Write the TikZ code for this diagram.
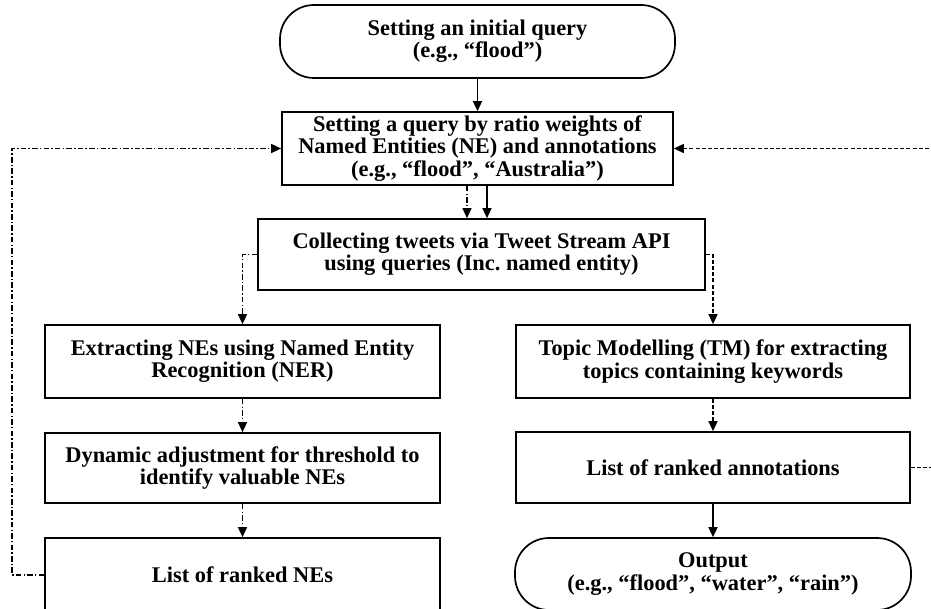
\documentclass[tikz,border=0pt]{standalone}
\usepackage{fontspec}
\setmainfont{Liberation Serif}
\usetikzlibrary{arrows.meta}
\begin{document}
\frenchspacing
\begin{tikzpicture}[x=1pt,y=-1pt,
  box/.style={draw, line width=1.7pt, align=center, inner sep=2pt,
    font=\bfseries\fontsize{22.4}{22.2}\selectfont},
  term/.style={box, rounded corners=34pt},
  arr/.style={-{Triangle[length=10pt,width=9pt]}, line width=1.5pt},
  dd/.style={dash pattern=on 5.5pt off 2.2pt on 1.5pt off 2.2pt},
  ds/.style={dash pattern=on 4pt off 2.2pt}]
\useasboundingbox (0,0) rectangle (931,609);
\fill[white] (0,0) rectangle (931,609);
\clip (0,0) rectangle (931,609);
\node[term, minimum width=395pt, minimum height=73pt] (start) at (477.5,41.5)
  {Setting an initial query\\(e.g., “flood”)};
\node[box, minimum width=391pt, minimum height=73pt] (q) at (477.5,148.5)
  {Setting a query by ratio weights of\\Named Entities (NE) and annotations\\(e.g., “flood”, “Australia”)};
\node[box, minimum width=447pt, minimum height=71pt] (coll) at (481.5,254.5)
  {Collecting tweets via Tweet Stream API\\using queries (Inc. named entity)};
\node[box, minimum width=395pt, minimum height=73pt] (ext) at (242.5,361.5)
  {Extracting NEs using Named Entity\\Recognition (NER)};
\node[box, minimum width=395pt, minimum height=70pt] (dyn) at (242.5,468)
  {Dynamic adjustment for threshold to\\identify valuable NEs};
\node[box, minimum width=395pt, minimum height=74pt] (lne) at (242.5,575)
  {List of ranked NEs};
\node[box, minimum width=394pt, minimum height=73pt] (tm) at (713,361.5)
  {Topic Modelling (TM) for extracting\\topics containing keywords};
\node[box, minimum width=394pt, minimum height=71pt] (ann) at (713,467.5)
  {List of ranked annotations};
\node[term, minimum width=396pt, minimum height=72pt] (out) at (713,574)
  {Output\\(e.g., “flood”, “water”, “rain”)};
\coordinate (rr) at (934,0);
\coordinate (ll) at (12,0);
\draw[arr] (start) -- (q);
\draw[arr,dd] ([xshift=-10.5pt]q.south) -- ([xshift=-10.5pt]q.south |- coll.north);
\draw[arr] ([xshift=9.5pt]q.south) -- ([xshift=9.5pt]q.south |- coll.north);
\draw[arr,dd] (coll.west) -| (ext.north);
\draw[arr,ds] (coll.east) -| (tm.north);
\draw[arr,dd] (ext) -- (dyn);
\draw[arr,dd] (dyn) -- (lne);
\draw[arr,ds] (tm) -- (ann);
\draw[arr] (ann) -- (out);
\draw[arr,dd] (lne.west) -- (lne.west -| ll) |- (q.west);
\draw[arr,ds] (ann.east) -- (ann.east -| rr) |- (q.east);
\end{tikzpicture}
\end{document}
